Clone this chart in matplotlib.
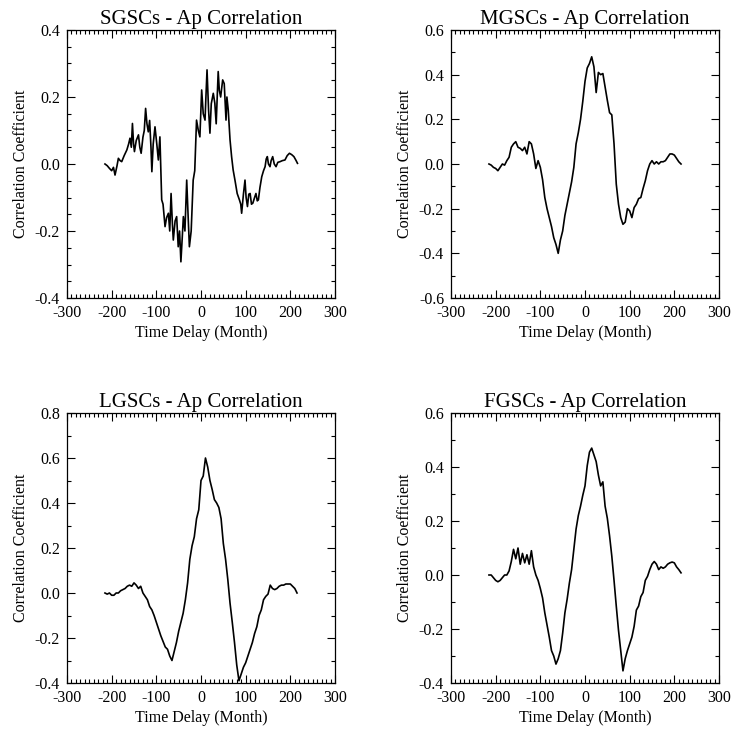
import numpy as np
import matplotlib
matplotlib.use("Agg")
import matplotlib.pyplot as plt
from matplotlib.ticker import MultipleLocator, FuncFormatter

plt.rcParams['font.family'] = ['Liberation Serif', 'DejaVu Serif']

titles = ["SGSCs - Ap Correlation", "MGSCs - Ap Correlation",
          "LGSCs - Ap Correlation", "FGSCs - Ap Correlation"]

# SGSCs: read at irregular lags (denser, noisy curve)
sgsc_lag = [-215, -210, -205, -200, -196, -192.5, -188, -185, -181, -177.5,
            -172, -166, -162, -159, -156, -153.5, -151, -149, -145, -140,
            -137, -134, -130, -127, -124, -121, -118, -115, -112, -110,
            -107, -103, -99, -95.5, -92, -88, -85, -80.5, -77, -73,
            -70, -67, -64, -62, -58, -54.5, -51, -48, -45, -42,
            -39.5, -36, -32, -29, -26, -22, -17.5, -14, -10, -6,
            -2.5, 1.5, 5, 9, 11, 13.5, 17, 20, 23, 27.5,
            31, 34, 38.5, 41, 44, 48.5, 52, 56, 58, 61,
            65, 68.5, 72, 76, 81, 86, 89, 91, 95, 98.5,
            101, 104, 107, 110, 113, 116, 120, 123, 126, 128.5,
            132, 136, 140, 143.5, 146, 148.5, 151, 154.5, 157, 160.5,
            164, 168, 172, 177, 182, 188, 193, 198, 203, 208,
            213, 216]
sgsc = [0.00, -0.005, -0.013, -0.02, -0.01, -0.033, -0.005, 0.017, 0.01, 0.007,
        0.025, 0.042, 0.06, 0.077, 0.05, 0.121, 0.06, 0.037, 0.07, 0.087,
        0.05, 0.032, 0.08, 0.10, 0.166, 0.12, 0.096, 0.13, 0.05, -0.023,
        0.06, 0.111, 0.06, 0.012, 0.081, -0.107, -0.12, -0.187, -0.16, -0.147,
        -0.20, -0.088, -0.18, -0.227, -0.17, -0.157, -0.247, -0.20, -0.292, -0.22,
        -0.157, -0.20, -0.048, -0.15, -0.247, -0.20, -0.048, -0.02, 0.131, 0.10,
        0.081, 0.221, 0.15, 0.131, 0.20, 0.281, 0.16, 0.092, 0.18, 0.211,
        0.181, 0.12, 0.276, 0.22, 0.20, 0.251, 0.24, 0.131, 0.20, 0.161,
        0.072, 0.022, -0.018, -0.048, -0.088, -0.107, -0.12, -0.147, -0.09, -0.048,
        -0.10, -0.127, -0.09, -0.088, -0.12, -0.117, -0.10, -0.088, -0.11, -0.107,
        -0.07, -0.038, -0.02, -0.008, 0.015, 0.022, 0.00, -0.008, 0.01, 0.022,
        0.00, -0.008, 0.005, 0.007, 0.01, 0.012, 0.025, 0.032, 0.028, 0.022,
        0.01, 0.002]

lags = np.arange(-215, 216, 5)

mgsc = [0.00, -0.005, -0.015, -0.02, -0.03, -0.015, 0.00, -0.005, 0.015, 0.03,
        0.075, 0.09, 0.10, 0.075, 0.07, 0.06, 0.075, 0.045, 0.10, 0.09,
        0.045, -0.02, 0.015, -0.015, -0.07, -0.15, -0.20, -0.24, -0.28, -0.33,
        -0.36, -0.40, -0.34, -0.30, -0.23, -0.18, -0.13, -0.08, -0.015, 0.09,
        0.14, 0.20, 0.28, 0.37, 0.43, 0.45, 0.48, 0.435, 0.32, 0.41,
        0.40, 0.405, 0.345, 0.285, 0.23, 0.22, 0.09, -0.09, -0.18, -0.24,
        -0.27, -0.26, -0.20, -0.21, -0.24, -0.195, -0.18, -0.155, -0.15, -0.11,
        -0.075, -0.03, 0.00, 0.015, 0.00, 0.01, 0.00, 0.01, 0.01, 0.015,
        0.03, 0.045, 0.045, 0.04, 0.025, 0.01, 0.00]

lgsc = [0.00, -0.005, 0.00, -0.01, -0.01, 0.00, 0.00, 0.01, 0.015, 0.02,
        0.03, 0.035, 0.03, 0.045, 0.035, 0.02, 0.03, 0.00, -0.015, -0.03,
        -0.06, -0.075, -0.10, -0.13, -0.16, -0.19, -0.215, -0.24, -0.25, -0.28,
        -0.30, -0.26, -0.22, -0.17, -0.13, -0.09, -0.03, 0.045, 0.15, 0.21,
        0.25, 0.33, 0.37, 0.50, 0.52, 0.60, 0.56, 0.50, 0.46, 0.415,
        0.40, 0.38, 0.33, 0.22, 0.15, 0.06, -0.045, -0.13, -0.22, -0.32,
        -0.39, -0.36, -0.33, -0.31, -0.28, -0.25, -0.22, -0.18, -0.15, -0.10,
        -0.075, -0.03, -0.015, -0.005, 0.035, 0.02, 0.015, 0.02, 0.03, 0.035,
        0.035, 0.04, 0.04, 0.04, 0.03, 0.02, 0.00]

fgsc = [0.00, 0.00, -0.01, -0.02, -0.025, -0.02, -0.01, 0.00, 0.00, 0.015,
        0.05, 0.095, 0.06, 0.10, 0.04, 0.08, 0.045, 0.075, 0.04, 0.09,
        0.03, 0.00, -0.02, -0.05, -0.085, -0.14, -0.185, -0.23, -0.28, -0.30,
        -0.33, -0.31, -0.28, -0.215, -0.14, -0.09, -0.03, 0.02, 0.095, 0.17,
        0.22, 0.255, 0.295, 0.33, 0.405, 0.455, 0.47, 0.445, 0.42, 0.37,
        0.33, 0.345, 0.255, 0.21, 0.145, 0.07, -0.02, -0.115, -0.205, -0.28,
        -0.355, -0.31, -0.28, -0.255, -0.23, -0.19, -0.13, -0.115, -0.08, -0.065,
        -0.02, -0.005, 0.02, 0.04, 0.05, 0.04, 0.02, 0.03, 0.025, 0.03,
        0.04, 0.045, 0.048, 0.045, 0.03, 0.02, 0.008]

xs = [sgsc_lag, lags, lags, lags]
series = [sgsc, mgsc, lgsc, fgsc]
ylims = [(-0.4, 0.4), (-0.6, 0.6), (-0.4, 0.8), (-0.4, 0.6)]
yminor = [0.05, 0.1, 0.1, 0.1]
xticks = [-300, -200, -100, 0, 100, 200, 300]

W, H = 733, 731
fig = plt.figure(figsize=(W / 100, H / 100), dpi=100)
# pixel boxes: left, top, right, bottom
boxes = [(67, 30, 335, 298), (451, 30, 719, 298),
         (67, 413, 335, 683), (451, 413, 719, 683)]

fmt = FuncFormatter(lambda v, p: f"{v:.1f}" if abs(v) > 1e-9 else "0.0")

for box, title, xv, ys, yl, ymn in zip(boxes, titles, xs, series, ylims, yminor):
    l, t, r, b = box
    ax = fig.add_axes([l / W, 1 - b / H, (r - l) / W, (b - t) / H])
    ax.plot(xv, ys, color='black', lw=1.2)
    ax.set_xlim(-300, 300)
    ax.set_ylim(*yl)
    ax.set_xticks(xticks)
    ax.set_xticklabels([str(v) for v in xticks])
    ax.yaxis.set_major_locator(MultipleLocator(0.2))
    ax.xaxis.set_minor_locator(MultipleLocator(10))
    ax.yaxis.set_minor_locator(MultipleLocator(ymn))
    ax.yaxis.set_major_formatter(fmt)
    ax.tick_params(which='both', direction='in', top=True, right=True, width=0.8)
    ax.tick_params(which='major', length=6, labelsize=11.5, pad=5)
    ax.tick_params(which='minor', length=3)
    for s in ax.spines.values():
        s.set_linewidth(0.9)
    ax.set_title(title, fontsize=15, pad=4)
    ax.set_xlabel("Time Delay (Month)", fontsize=11.5, labelpad=3)
    ax.set_ylabel("Correlation Coefficient", fontsize=11.5, labelpad=4)

fig.savefig("out.png", dpi=100)
